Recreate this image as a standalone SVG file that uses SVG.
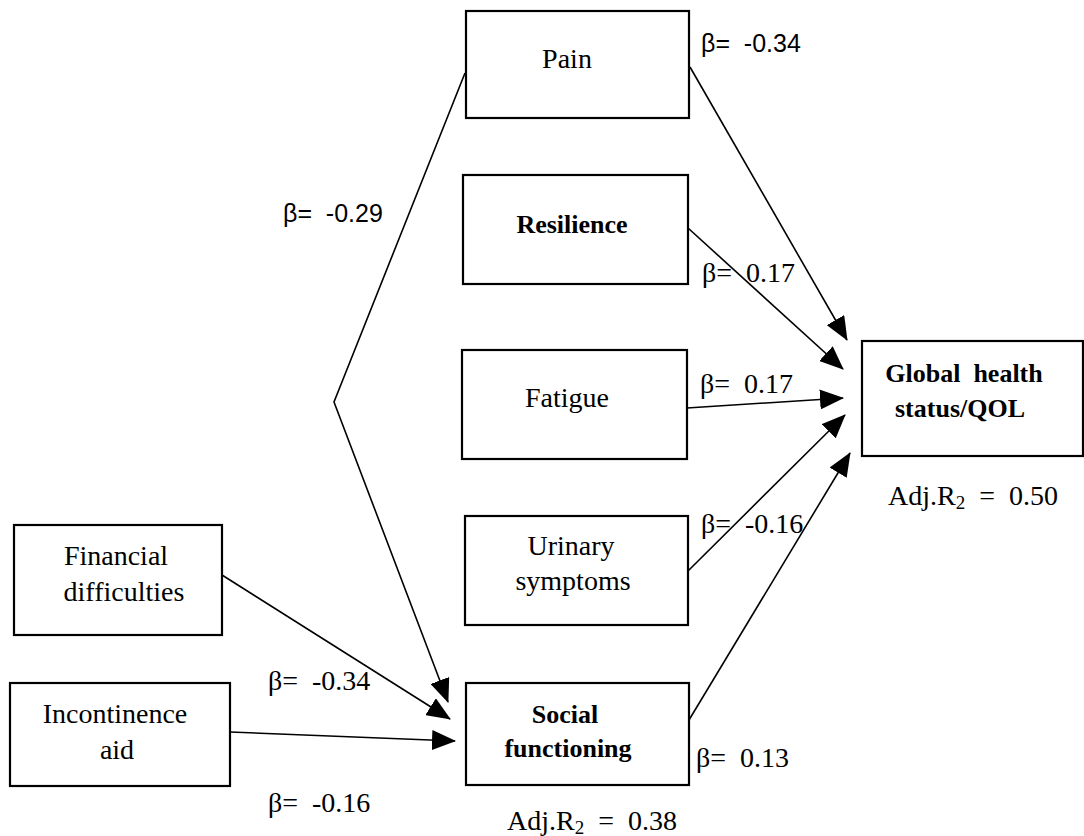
<svg xmlns="http://www.w3.org/2000/svg" width="1084" height="836" viewBox="0 0 1084 836">
<style>
.box{fill:#fff;stroke:#000;stroke-width:2.2}
.t{font-family:"Liberation Serif",serif;font-size:28px;fill:#000;text-anchor:middle}
.b{font-weight:bold;font-size:26px}
.lbl{font-family:"Liberation Serif",serif;font-size:28px;fill:#000}
.lbls{font-family:"Liberation Sans",sans-serif;font-size:25px;fill:#000}
.con{fill:none;stroke:#000;stroke-width:1.6;marker-end:url(#ah)}
</style>
<defs>
<marker id="ah" markerUnits="userSpaceOnUse" markerWidth="24" markerHeight="20" viewBox="0 0 24 20" refX="23" refY="10" orient="auto">
<path d="M0,0 L24,10 L0,20 Z" fill="#000"/>
</marker>
</defs>
<rect width="1084" height="836" fill="#fff"/>
<g id="connectors">
<line class="con" x1="690" y1="67" x2="847" y2="340"/>
<line class="con" x1="688" y1="228" x2="843" y2="369"/>
<line class="con" x1="687" y1="408" x2="843" y2="398"/>
<line class="con" x1="688" y1="571" x2="845" y2="415"/>
<line class="con" x1="689" y1="720" x2="850" y2="453"/>
<polyline class="con" points="465,73 334,402 448,702"/>
<line class="con" x1="222" y1="575" x2="450" y2="719"/>
<line class="con" x1="230" y1="732" x2="455" y2="741"/>
</g>
<g id="pain">
<rect class="box" x="466" y="11" width="223" height="107"/>
<text class="t" x="567" y="68">Pain</text>
</g>
<g id="resilience">
<rect class="box" x="463" y="175" width="225" height="109"/>
<text class="t b" x="572" y="233">Resilience</text>
</g>
<g id="fatigue">
<rect class="box" x="462" y="350" width="225" height="109"/>
<text class="t" x="567" y="407">Fatigue</text>
</g>
<g id="urinary">
<rect class="box" x="465" y="516" width="223" height="109"/>
<text class="t" x="571" y="555">Urinary</text>
<text class="t" x="573" y="590">symptoms</text>
</g>
<g id="social">
<rect class="box" x="466" y="683" width="223" height="102"/>
<text class="t b" x="565" y="723">Social</text>
<text class="t b" x="568" y="757">functioning</text>
</g>
<g id="financial">
<rect class="box" x="14" y="525" width="208" height="110"/>
<text class="t" x="116" y="565">Financial</text>
<text class="t" x="124" y="601">difficulties</text>
</g>
<g id="incontinence">
<rect class="box" x="10" y="683" width="220" height="103"/>
<text class="t" x="115" y="723">Incontinence</text>
<text class="t" x="117" y="759">aid</text>
</g>
<g id="global">
<rect class="box" x="862" y="341" width="221" height="115"/>
<text class="t b" x="964" y="382" xml:space="preserve">Global  health</text>
<text class="t b" x="960" y="417">status/QOL</text>
</g>
<g id="labels">
<text class="lbls" x="701" y="52" xml:space="preserve">β=  -0.34</text>
<text class="lbls" x="283" y="222" xml:space="preserve">β=  -0.29</text>
<text class="lbl" x="702" y="282" xml:space="preserve">β=  0.17</text>
<text class="lbl" x="700" y="393" xml:space="preserve">β=  0.17</text>
<text class="lbl" x="701" y="533" xml:space="preserve">β=  -0.16</text>
<text class="lbl" x="268" y="690" xml:space="preserve">β=  -0.34</text>
<text class="lbl" x="268" y="812" xml:space="preserve">β=  -0.16</text>
<text class="lbl" x="696" y="767" xml:space="preserve">β=  0.13</text>
<text class="lbl" x="507" y="830" xml:space="preserve">Adj.R<tspan font-size="19" dy="4">2</tspan><tspan dy="-4">  =  0.38</tspan></text>
<text class="lbl" x="888" y="505" xml:space="preserve">Adj.R<tspan font-size="19" dy="4">2</tspan><tspan dy="-4">  =  0.50</tspan></text>
</g>
</svg>
